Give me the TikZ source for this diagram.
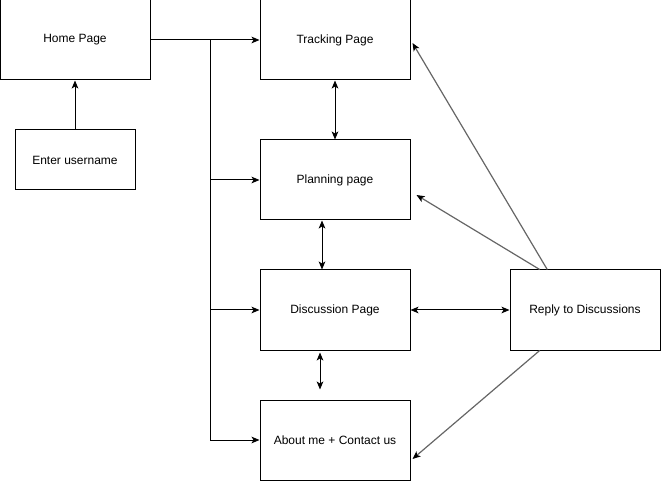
\documentclass[tikz,border=0pt]{standalone}
\usepackage{fontspec}
\setmainfont{Liberation Sans}
\usetikzlibrary{arrows.meta,calc}
\begin{document}
\begin{tikzpicture}[x=0.75pt,y=-0.75pt,
  box/.style={draw=black,line width=0.75pt,rectangle,inner sep=0pt,minimum width=112.5pt,minimum height=60pt,font=\fontsize{9}{11}\selectfont},
  arr/.style={draw=black,line width=0.75pt,-{Stealth[length=6pt,width=5pt,inset=1.5pt]}},
  darr/.style={draw=black,line width=0.75pt,{Stealth[length=6pt,width=5pt,inset=1.5pt]}-{Stealth[length=6pt,width=5pt,inset=1.5pt]}},
  garr/.style={draw=black!60,line width=0.9pt,-{Stealth[length=6pt,width=5pt,inset=1.5pt,color=black]}}]
\useasboundingbox (0,0) rectangle (661,481);
\node[box] (home) at (75,40) {Home Page};
\node[box,minimum width=90pt,minimum height=45pt] (user) at (75,160) {Enter username};
\node[box] (tracking) at (335,40) {Tracking Page};
\node[box] (planning) at (335,180) {Planning page};
\node[box] (discussion) at (335,310) {Discussion Page};
\node[box] (about) at (335,440) {About me + Contact us};
\node[box] (reply) at (585,310) {Reply to Discussions};
\coordinate (j) at (210,40);
\draw[arr] (user.north) -- (home.south);
\draw[arr] (home.east) -- (tracking.west);
\draw[arr] (j) |- (about.west);
\draw[arr] (j |- planning.west) -- (planning.west);
\draw[arr] (j |- discussion.west) -- (discussion.west);
\draw[darr] (tracking.south) -- (planning.north);
\draw[darr] ($(planning.south)+(-13,0)$) -- ($(discussion.north)+(-13,0)$);
\draw[darr] ($(discussion.south)+(-15,2)$) -- ($(about.north)+(-15,-10)$);
\draw[darr] (discussion.east) -- (reply.west);
\draw[garr] ($(reply.north west)!0.25!(reply.north east)$) -- ($(tracking.east)+(2,3)$);
\draw[garr] ($(reply.north west)!0.2!(reply.north east)$) -- ($(planning.east)+(6,15)$);
\draw[garr] ($(reply.south west)!0.2!(reply.south east)$) -- ($(about.east)+(2,19)$);
\end{tikzpicture}
\end{document}
